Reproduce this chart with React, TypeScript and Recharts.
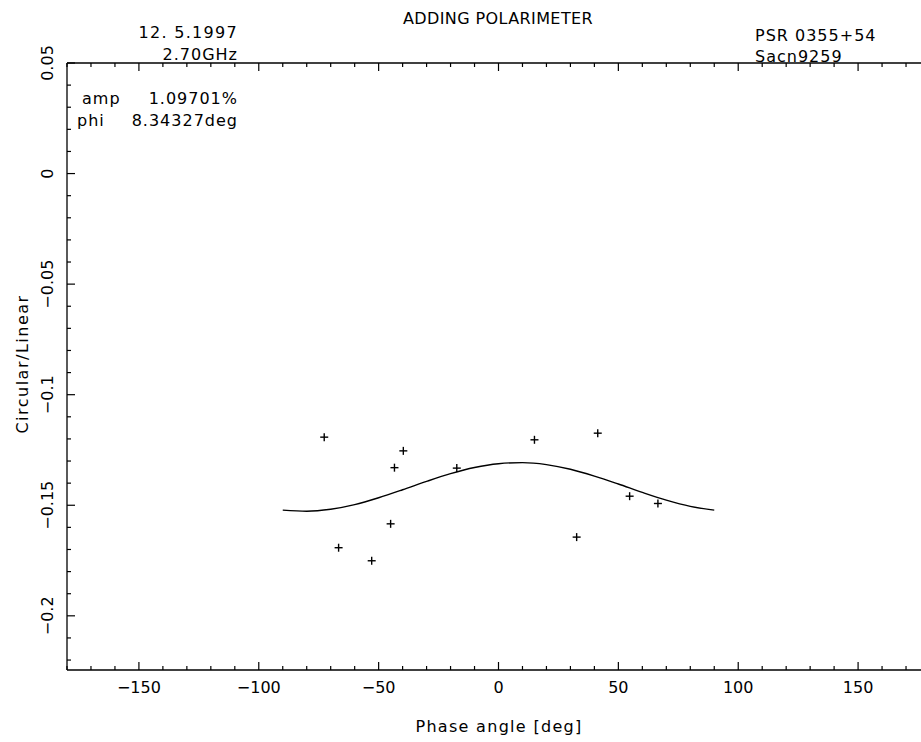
import React from 'react';
import { ComposedChart, Line, Scatter, XAxis, YAxis, Customized } from 'recharts';

// fitted curve
const fitAngle = [-90, -80, -70, -60, -50, -40, -30, -20, -10, 0, 10, 20, 30, 40, 50, 60, 70, 80, 90];
const fitValue = [-0.1522, -0.1527, -0.1518, -0.1497, -0.1466, -0.1430, -0.1392, -0.1357, -0.1329, -0.1312, -0.1307, -0.1316, -0.1337, -0.1368, -0.1404, -0.1442, -0.1477, -0.1505, -0.1522];

// measured points
const phaseAngle = [-72.7, -39.7, -43.4, -17.4, 15.0, 41.4, 54.7, 66.5, -45.0, -66.7, -52.9, 32.6];
const ratio = [-0.1192, -0.1254, -0.1330, -0.1332, -0.1204, -0.1174, -0.1459, -0.1492, -0.1584, -0.1692, -0.1751, -0.1644];

const xTicks = [-180, -170, -160, -150, -140, -130, -120, -110, -100, -90, -80, -70, -60, -50, -40, -30, -20, -10, 0, 10, 20, 30, 40, 50, 60, 70, 80, 90, 100, 110, 120, 130, 140, 150, 160, 170, 180];
const xMajor = [-150, -100, -50, 0, 50, 100, 150];
const xMajorLabels = ['\u2212150', '\u2212100', '\u221250', '0', '50', '100', '150'];
const yTicks = [0.05, 0.04, 0.03, 0.02, 0.01, 0, -0.01, -0.02, -0.03, -0.04, -0.05, -0.06, -0.07, -0.08, -0.09, -0.1, -0.11, -0.12, -0.13, -0.14, -0.15, -0.16, -0.17, -0.18, -0.19, -0.2, -0.21, -0.22];
const yMajor = [0.05, 0, -0.05, -0.1, -0.15, -0.2];
const yMajorLabels = ['0.05', '0', '\u22120.05', '\u22120.1', '\u22120.15', '\u22120.2'];

const curveData = fitAngle.map((x, i) => ({ x, y: fitValue[i] }));
const pointData = phaseAngle.map((x, i) => ({ x, y: ratio[i] }));

const FONT = "'DejaVu Sans', sans-serif";
const majIdx = (arr: number[], v: number) => arr.findIndex((m) => Math.abs(m - v) < 1e-9);

const BottomTick = (p: any) => {
  const { x, y, payload } = p;
  const i = majIdx(xMajor, payload.value);
  return (
    <g>
      <line x1={x} x2={x} y1={y} y2={y - (i >= 0 ? 8 : 4)} stroke="#000" strokeWidth={1.2} />
      {i >= 0 && (
        <text x={x} y={y + 23} textAnchor="middle" fontFamily={FONT} fontSize={16} fill="#000">
          {xMajorLabels[i]}
        </text>
      )}
    </g>
  );
};

const TopTick = (p: any) => {
  const { x, y, payload } = p;
  const i = majIdx(xMajor, payload.value);
  return <line x1={x} x2={x} y1={y} y2={y + (i >= 0 ? 8 : 4)} stroke="#000" strokeWidth={1.2} />;
};

const LeftTick = (p: any) => {
  const { x, y, payload } = p;
  const i = majIdx(yMajor, payload.value);
  return (
    <g>
      <line x1={x} x2={x + (i >= 0 ? 8 : 4)} y1={y} y2={y} stroke="#000" strokeWidth={1.2} />
      {i >= 0 && (
        <text x={53} y={y} transform={`rotate(-90 53 ${y})`} textAnchor="middle" fontFamily={FONT} fontSize={16} fill="#000">
          {yMajorLabels[i]}
        </text>
      )}
    </g>
  );
};

const RightTick = (p: any) => {
  const { x, y, payload } = p;
  const i = majIdx(yMajor, payload.value);
  return <line x1={x} x2={x - (i >= 0 ? 8 : 4)} y1={y} y2={y} stroke="#000" strokeWidth={1.2} />;
};

const Plus = (p: any) => {
  const { cx, cy } = p;
  if (cx == null || cy == null) return null;
  return (
    <g>
      <line x1={cx - 4} x2={cx + 4} y1={cy} y2={cy} stroke="#000" strokeWidth={1.4} />
      <line x1={cx} x2={cx} y1={cy - 4} y2={cy + 4} stroke="#000" strokeWidth={1.4} />
    </g>
  );
};

const Annotations = () => (
  <g fontFamily={FONT} fontSize={16} fill="#000">
    <text x={498} y={24} textAnchor="middle" letterSpacing={0.4}>ADDING POLARIMETER</text>
    <text x={238} y={38} textAnchor="end" letterSpacing={1.3} style={{ whiteSpace: 'pre' }}>12. 5.1997</text>
    <text x={238} y={60} textAnchor="end" letterSpacing={1}>2.70GHz</text>
    <text x={82} y={104} letterSpacing={1}>amp</text>
    <text x={238} y={104} textAnchor="end" letterSpacing={1}>1.09701%</text>
    <text x={77} y={126} letterSpacing={1}>phi</text>
    <text x={238} y={126} textAnchor="end" letterSpacing={1}>8.34327deg</text>
    <text x={755} y={41} letterSpacing={1}>PSR 0355+54</text>
    <text x={755} y={62} letterSpacing={1}>Sacn9259</text>
    <text x={499} y={732} textAnchor="middle" letterSpacing={1.3}>Phase angle [deg]</text>
    <text x={28} y={364} textAnchor="middle" letterSpacing={1.5} transform="rotate(-90 28 364)">Circular/Linear</text>
  </g>
);

export default function App() {
  return (
    <div style={{ position: 'fixed', left: 0, top: 0, width: 921, height: 742, overflow: 'hidden', background: '#fff' }}>
      <ComposedChart width={940} height={742} margin={{ top: 0, right: 0, bottom: 0, left: 0 }}>
        <XAxis
          xAxisId="b"
          orientation="bottom"
          type="number"
          dataKey="x"
          domain={[-180, 180]}
          allowDataOverflow
          ticks={xTicks}
          interval={0}
          height={72}
          tickSize={0}
          tickMargin={0}
          tickLine={false}
          axisLine={{ stroke: '#000', strokeWidth: 1.3 }}
          tick={<BottomTick />}
        />
        <XAxis
          xAxisId="t"
          orientation="top"
          type="number"
          dataKey="x"
          domain={[-180, 180]}
          allowDataOverflow
          ticks={xTicks}
          interval={0}
          height={63}
          tickSize={0}
          tickMargin={0}
          tickLine={false}
          axisLine={{ stroke: '#000', strokeWidth: 1.3 }}
          tick={<TopTick />}
        />
        <YAxis
          yAxisId="l"
          orientation="left"
          type="number"
          dataKey="y"
          domain={[-0.2245, 0.05]}
          allowDataOverflow
          ticks={yTicks}
          interval={0}
          width={67}
          tickSize={0}
          tickMargin={0}
          tickLine={false}
          axisLine={{ stroke: '#000', strokeWidth: 1.3 }}
          tick={<LeftTick />}
        />
        <YAxis
          yAxisId="r"
          orientation="right"
          type="number"
          dataKey="y"
          domain={[-0.2245, 0.05]}
          allowDataOverflow
          ticks={yTicks}
          interval={0}
          width={10}
          tickSize={0}
          tickMargin={0}
          tickLine={false}
          axisLine={{ stroke: '#000', strokeWidth: 1.3 }}
          tick={<RightTick />}
        />
        <Line
          xAxisId="b"
          yAxisId="l"
          data={curveData}
          dataKey="y"
          type="monotone"
          dot={false}
          activeDot={false}
          stroke="#000"
          strokeWidth={1.4}
          isAnimationActive={false}
        />
        <Scatter
          xAxisId="b"
          yAxisId="l"
          data={pointData}
          dataKey="y"
          shape={<Plus />}
          isAnimationActive={false}
        />
        <Scatter
          xAxisId="t"
          yAxisId="r"
          data={pointData}
          dataKey="y"
          shape={() => null}
          isAnimationActive={false}
        />
        <Customized component={<Annotations />} />
      </ComposedChart>
    </div>
  );
}
